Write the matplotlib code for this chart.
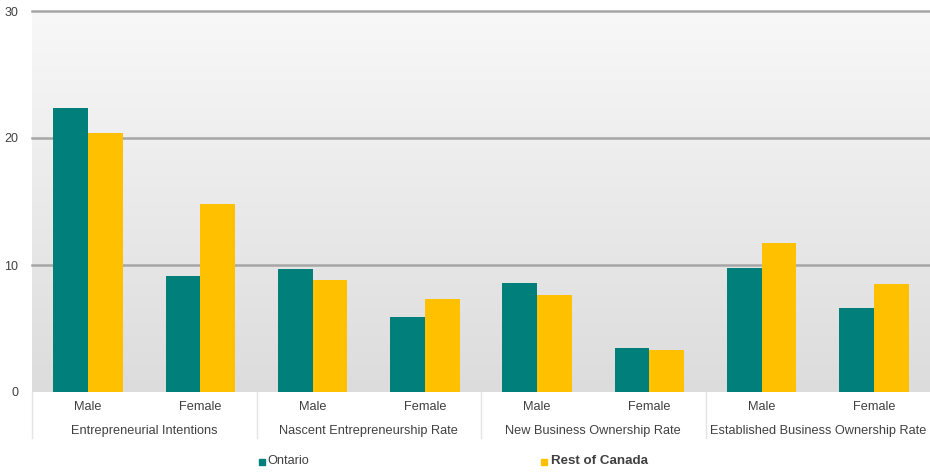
import numpy as np
import matplotlib.pyplot as plt
from matplotlib import transforms

plt.rcParams['font.family'] = ['Liberation Sans', 'DejaVu Sans']

groups = ["Entrepreneurial Intentions", "Nascent Entrepreneurship Rate",
          "New Business Ownership Rate", "Established Business Ownership Rate"]
sexes = ["Male", "Female"]
ontario = [22.4, 9.1, 9.7, 5.9, 8.6, 3.5, 9.8, 6.6]
rest_of_canada = [20.4, 14.8, 8.8, 7.3, 7.6, 3.3, 11.7, 8.5]

TEAL = "#007f7b"
GOLD = "#ffc000"
TEXT = "#404040"

fig = plt.figure(figsize=(9.3, 4.72), dpi=100)
ax = fig.add_axes([32/930, 1 - 392/472, 898/930, 381/472])

x = np.arange(len(ontario))
w = 0.31
ax.set_xlim(-0.5, 7.5)
ax.set_ylim(0, 30)

# vertical grey gradient behind the bars
grad = np.linspace(0, 1, 256).reshape(-1, 1)
ax.imshow(grad, extent=(-0.5, 7.5, 0, 30), aspect='auto', origin='lower',
          cmap=plt.matplotlib.colors.LinearSegmentedColormap.from_list(
              "bg", ["#dcdcdc", "#f8f8f8"]), zorder=0)

for yv in (10, 20, 30):
    ax.axhline(yv, color="#a6a6a6", lw=1.8, zorder=1, clip_on=False)

ax.bar(x - w/2, ontario, w, color=TEAL, zorder=2)
ax.bar(x + w/2, rest_of_canada, w, color=GOLD, zorder=2)

for s in ax.spines.values():
    s.set_visible(False)
ax.set_xticks([])
ax.set_yticks([0, 10, 20, 30])
ax.tick_params(axis='y', length=0, pad=10, labelsize=9, labelcolor=TEXT)

trans = transforms.blended_transform_factory(ax.transData, ax.transAxes)
for i in range(len(ontario)):
    ax.text(x[i], -0.039, sexes[i % 2], transform=trans, ha='center',
            va='center', fontsize=9.2, color=TEXT)
for g, name in enumerate(groups):
    ax.text(2*g + 0.5, -0.102, name, transform=trans, ha='center',
            va='center', fontsize=9.2, color=TEXT, clip_on=False)
    ax.plot([2*g - 0.5, 2*g - 0.5], [0, -0.12], transform=trans,
            color="#e4e4e4", lw=1, clip_on=False)

# legend
fig.patches.append(plt.Rectangle((259/930, 1 - 465/472), 6/930, 6/472,
                                 transform=fig.transFigure, color=TEAL))
fig.text(267/930, 1 - 461/472, "Ontario", fontsize=9.2, color=TEXT, va='center')
fig.patches.append(plt.Rectangle((541/930, 1 - 465/472), 6/930, 6/472,
                                 transform=fig.transFigure, color=GOLD))
fig.text(551/930, 1 - 461/472, "Rest of Canada", fontsize=9.6, color=TEXT,
         va='center', fontweight='bold')

fig.savefig("out.png", dpi=100)
